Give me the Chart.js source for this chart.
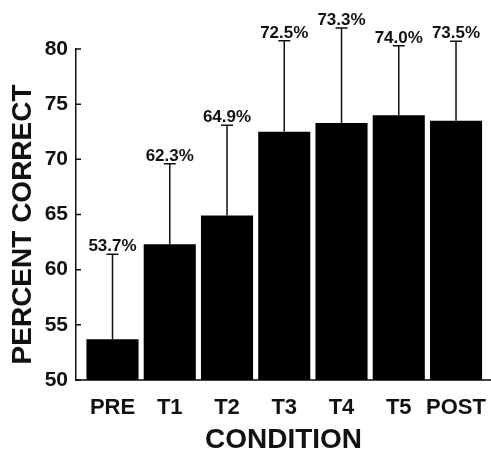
<!DOCTYPE html>
<html>
<head>
<meta charset="utf-8">
<script src="https://cdn.jsdelivr.net/npm/chart.js@4.4.0/dist/chart.umd.min.js"></script>
<style>
    html, body { margin: 0; padding: 0; background: #fff; }
    #wrap { width: 491px; height: 454px; position: relative; }
</style>
</head>
<body>
<div id="wrap"><canvas id="chart"></canvas></div>
<script>
// Chart data
const conditions = ['PRE', 'T1', 'T2', 'T3', 'T4', 'T5', 'POST'];
const percentCorrect = [53.7, 62.3, 64.9, 72.5, 73.3, 74.0, 73.5];
const errorUpper = [7.7, 7.3, 8.2, 8.25, 8.6, 6.3, 7.2];
const valueLabels = ['53.7%', '62.3%', '64.9%', '72.5%', '73.3%', '74.0%', '73.5%'];
const yTicks = [50, 55, 60, 65, 70, 75, 80];

const FONT = "'Liberation Sans', Arial, sans-serif";

/**
 * Draws upward error bars, value labels and inward y tick marks
 */
const errorBarPlugin = {
    id: 'errorBars',
    afterDatasetsDraw(chart) {
        const ctx = chart.ctx;
        const yScale = chart.scales.y;
        const meta = chart.getDatasetMeta(0);

        ctx.save();
        ctx.strokeStyle = '#111';
        ctx.lineWidth = 1.5;
        ctx.fillStyle = '#111';
        ctx.font = 'bold 17px ' + FONT;
        ctx.textAlign = 'center';
        ctx.textBaseline = 'alphabetic';

        meta.data.forEach((bar, i) => {
            const yTop = yScale.getPixelForValue(percentCorrect[i] + errorUpper[i]);
            const yBar = bar.y;

            // Vertical whisker
            ctx.beginPath();
            ctx.moveTo(bar.x, yBar);
            ctx.lineTo(bar.x, yTop);
            // Cap
            ctx.moveTo(bar.x - 6, yTop);
            ctx.lineTo(bar.x + 6, yTop);
            ctx.stroke();

            // Value label above cap
            ctx.fillText(valueLabels[i], bar.x, yTop - 3);
        });

        // Inward tick marks on the y axis
        const left = chart.chartArea.left;
        ctx.beginPath();
        yScale.ticks.forEach(t => {
            const y = yScale.getPixelForValue(t.value);
            ctx.moveTo(left, y);
            ctx.lineTo(left + 5, y);
        });
        ctx.stroke();
        ctx.restore();
    }
};

const chartCanvas = document.getElementById('chart');

new Chart(chartCanvas, {
    type: 'bar',
    data: {
        datasets: [{
            data: percentCorrect.map((v, i) => ({ x: i, y: v })),
            backgroundColor: '#000',
            borderWidth: 0,
            barPercentage: 0.91,
            categoryPercentage: 1.0
        }]
    },
    options: {
        responsive: true,
        maintainAspectRatio: false,
        animation: false,
        layout: { padding: { top: 49, right: 0, bottom: 0, left: 0 } },
        plugins: {
            legend: { display: false },
            tooltip: { enabled: false }
        },
        scales: {
            x: {
                type: 'linear',
                offset: false,
                min: -0.6376,
                max: 6.611,
                afterBuildTicks: scale => {
                    scale.ticks = conditions.map((c, i) => ({ value: i }));
                },
                afterFit: scale => {
                    scale.height = 74;
                    // keep the axis running to the right edge
                    scale.paddingLeft = 0;
                    scale.paddingRight = 0;
                },
                grid: { display: true, drawOnChartArea: false, drawTicks: false },
                border: { display: true, color: '#444', width: 2 },
                ticks: {
                    color: '#111',
                    padding: 15,
                    maxRotation: 0,
                    autoSkip: false,
                    font: { family: FONT, size: 22, weight: 'bold' },
                    callback: value => conditions[value]
                },
                title: {
                    display: true,
                    text: 'CONDITION',
                    color: '#111',
                    padding: { top: 0, bottom: 0 },
                    font: { family: FONT, size: 28, weight: 'bold', lineHeight: 1 }
                }
            },
            y: {
                min: 50,
                max: 80,
                afterBuildTicks: scale => {
                    scale.ticks = yTicks.map(v => ({ value: v }));
                },
                afterFit: scale => { scale.width = 76; },
                grid: { display: true, drawOnChartArea: false, drawTicks: false },
                border: { display: true, color: '#111', width: 1.5 },
                ticks: {
                    color: '#111',
                    padding: 8,
                    font: { family: FONT, size: 21, weight: 'bold' }
                },
                title: {
                    display: true,
                    text: '  PERCENT CORRECT',
                    align: 'start',
                    color: '#111',
                    padding: { top: 9, bottom: 0 },
                    font: { family: FONT, size: 28, weight: 'bold', lineHeight: 1 }
                }
            }
        }
    },
    plugins: [errorBarPlugin]
});
</script>
</body>
</html>
